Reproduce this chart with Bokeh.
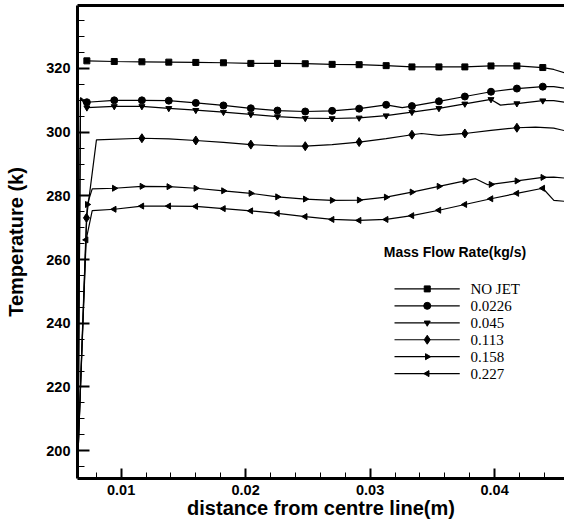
import numpy as np
from bokeh.plotting import figure
from bokeh.models import (Range1d, SingleIntervalTicker, LinearAxis, FixedTicker, Label)
from bokeh.embed import file_html
from bokeh.resources import INLINE

# ---------------- data ----------------
names = ["NO JET", "0.0226", "0.045", "0.113", "0.158", "0.227"]

nojet_x = [0.00725, 0.00945, 0.01167, 0.01383, 0.01600, 0.01822, 0.02042, 0.02256, 0.02479,
           0.02695, 0.02912, 0.03129, 0.03336, 0.03553, 0.03761, 0.03971, 0.04179, 0.04387,
           0.04475, 0.04561]
nojet_t = [322.4, 322.2, 322.1, 322.0, 321.9, 321.8, 321.6, 321.6, 321.5, 321.3, 321.2, 320.9,
           320.5, 320.5, 320.5, 320.8, 320.8, 320.3, 319.7, 318.7]
nojet_marks = list(range(18))

m0226_x = [0.00655, 0.00674, 0.00725, 0.00945, 0.01167, 0.01383, 0.01600, 0.01822, 0.02042,
           0.02256, 0.02479, 0.02695, 0.02912, 0.03129, 0.03258, 0.03336, 0.03553, 0.03761,
           0.03971, 0.04179, 0.04387, 0.04475, 0.04561]
m0226_t = [200.0, 310.8, 309.4, 310.0, 310.0, 309.9, 309.2, 308.4, 307.5, 306.8, 306.5, 306.7,
           307.4, 308.6, 307.7, 308.2, 309.7, 311.2, 312.7, 313.7, 314.3, 314.3, 313.8]
m0226_marks = list(range(2, 14)) + list(range(15, 21))

m045_x = [0.00655, 0.00674, 0.00725, 0.00945, 0.01167, 0.01383, 0.01600, 0.01822, 0.02042,
          0.02256, 0.02479, 0.02695, 0.02912, 0.03129, 0.03336, 0.03553, 0.03761, 0.03971,
          0.04047, 0.04179, 0.04387, 0.04475, 0.04561]
m045_t = [200.0, 310.8, 307.7, 308.1, 308.1, 307.5, 306.9, 306.3, 305.6, 304.9, 304.4, 304.3,
          304.5, 305.2, 306.3, 307.5, 308.9, 310.3, 308.5, 309.0, 309.9, 309.9, 309.4]
m045_marks = list(range(2, 18)) + [19, 20]

m113_x = [0.00655, 0.00722, 0.00802, 0.01167, 0.01383, 0.01600, 0.01822, 0.02042, 0.02256,
          0.02479, 0.02695, 0.02912, 0.03129, 0.03336, 0.03413, 0.03553, 0.03761, 0.03971,
          0.04179, 0.04329, 0.04475, 0.04561]
m113_t = [200.0, 273.1, 297.6, 298.1, 297.9, 297.4, 296.8, 296.1, 295.7, 295.6, 296.1, 296.9,
          298.0, 299.2, 299.6, 299.0, 299.6, 300.6, 301.4, 301.6, 301.3, 300.5]
m113_marks = [1, 3, 5, 7, 9, 11, 13, 16, 18]

m158_x = [0.00655, 0.00728, 0.00768, 0.00945, 0.01167, 0.01383, 0.01600, 0.01822, 0.02042,
          0.02256, 0.02479, 0.02695, 0.02912, 0.03129, 0.03336, 0.03553, 0.03761, 0.03847,
          0.03945, 0.03971, 0.04179, 0.04387, 0.04475, 0.04561]
m158_t = [200.0, 277.3, 282.2, 282.4, 283.0, 282.9, 282.4, 281.6, 280.8, 279.7, 279.0, 278.6,
          278.7, 279.6, 281.2, 283.0, 284.7, 285.4, 283.5, 283.6, 284.7, 285.8, 285.9, 285.6]
m158_marks = [1] + list(range(3, 17)) + [19, 20, 21]

m227_x = [0.00655, 0.00719, 0.00768, 0.00945, 0.01167, 0.01383, 0.01600, 0.01822, 0.02042,
          0.02256, 0.02479, 0.02695, 0.02912, 0.03129, 0.03336, 0.03553, 0.03761, 0.03971,
          0.04179, 0.04387, 0.04476, 0.04561]
m227_t = [200.0, 266.2, 275.4, 275.8, 276.8, 276.8, 276.7, 276.0, 275.3, 274.5, 273.5, 272.6,
          272.3, 272.6, 273.8, 275.5, 277.3, 279.1, 280.8, 282.4, 278.6, 278.3]
m227_marks = [1] + list(range(3, 20))

x_major_step = 0.01
y_major_step = 20

# ---------------- figure ----------------
p = figure(width=564, height=525, output_backend="svg", toolbar_location=None,
           x_range=Range1d(0.006498, 0.045614), y_range=Range1d(191.27, 339.78),
           min_border_left=77, min_border_right=0, min_border_top=5, min_border_bottom=47)
p.grid.visible = False
p.outline_line_color = None
p.background_fill_color = "white"
p.border_fill_color = "white"

p.xaxis.ticker = SingleIntervalTicker(interval=x_major_step, num_minor_ticks=5)
p.yaxis.ticker = SingleIntervalTicker(interval=y_major_step, num_minor_ticks=4)

for ax in (p.xaxis[0], p.yaxis[0]):
    ax.axis_line_width = 3
    ax.axis_line_color = "black"
    ax.major_tick_out = 0
    ax.minor_tick_out = 0
    ax.major_tick_line_width = 2
    ax.minor_tick_line_width = 1
    ax.major_tick_line_color = "black"
    ax.minor_tick_line_color = "black"
    ax.major_label_text_font = "Liberation Sans"
    ax.major_label_text_font_style = "bold"
    ax.major_label_text_font_size = "14.5px"
    ax.major_label_text_color = "black"
    ax.axis_label_text_font = "Liberation Sans"
    ax.axis_label_text_font_style = "bold"
    ax.axis_label_text_font_size = "20px"
    ax.axis_label_text_color = "black"

p.xaxis.major_tick_in = 10
p.xaxis.minor_tick_in = 6
p.yaxis.major_tick_in = 12
p.yaxis.minor_tick_in = 7
p.xaxis.major_label_standoff = 6
p.yaxis.major_label_standoff = 7

p.yaxis.axis_label = "Temperature (k)"
p.yaxis.axis_label_standoff = 16

p.xaxis.axis_label = "distance from centre line(m)"
p.xaxis.axis_label_standoff = -1

top_axis = LinearAxis(ticker=FixedTicker(ticks=[]), axis_line_width=3, axis_line_color="black",
                      major_tick_line_color=None, minor_tick_line_color=None,
                      major_label_text_font_size="0px", major_label_standoff=0)
p.add_layout(top_axis, "above")

# ---------------- series ----------------
series = [
    (nojet_x, nojet_t, nojet_marks, "square", 6, 0.0),
    (m0226_x, m0226_t, m0226_marks, "circle", 7, 0.0),
    (m045_x, m045_t, m045_marks, "inverted_triangle", 6, 0.0),
    (m113_x, m113_t, m113_marks, "diamond", 9, 0.0),
    (m158_x, m158_t, m158_marks, "triangle", 6, -np.pi / 2),
    (m227_x, m227_t, m227_marks, "triangle", 6, np.pi / 2),
]

# legend layout (data coordinates of the key block)
leg_x0, leg_x1, leg_xm, leg_xt = 0.03196, 0.03720, 0.03459, 0.03806
leg_y0, leg_dy = 250.8, -5.32

for k, (name, (xs, ts, marks, mk, sz, ang)) in enumerate(zip(names, series)):
    p.line(xs, ts, line_color="black", line_width=1.2)
    p.scatter([xs[i] for i in marks], [ts[i] for i in marks], marker=mk, size=sz,
              angle=ang, fill_color="black", line_color="black")
    ly = leg_y0 + k * leg_dy
    p.line([leg_x0, leg_x1], [ly, ly], line_color="black", line_width=1.2)
    p.scatter([leg_xm], [ly], marker=mk, size=sz, angle=ang,
              fill_color="black", line_color="black")
    p.text([leg_xt], [ly], text=[name], text_align="left", text_baseline="middle",
           text_font="Liberation Serif", text_font_size="15px", text_color="black")

p.add_layout(Label(x=0.03110, y=262.3, text="Mass Flow Rate(kg/s)", text_align="left",
                   text_baseline="middle", text_font="Liberation Sans", text_font_style="bold",
                   text_font_size="14px", text_color="black"))

open("out.html", "w").write(file_html(p, INLINE))
